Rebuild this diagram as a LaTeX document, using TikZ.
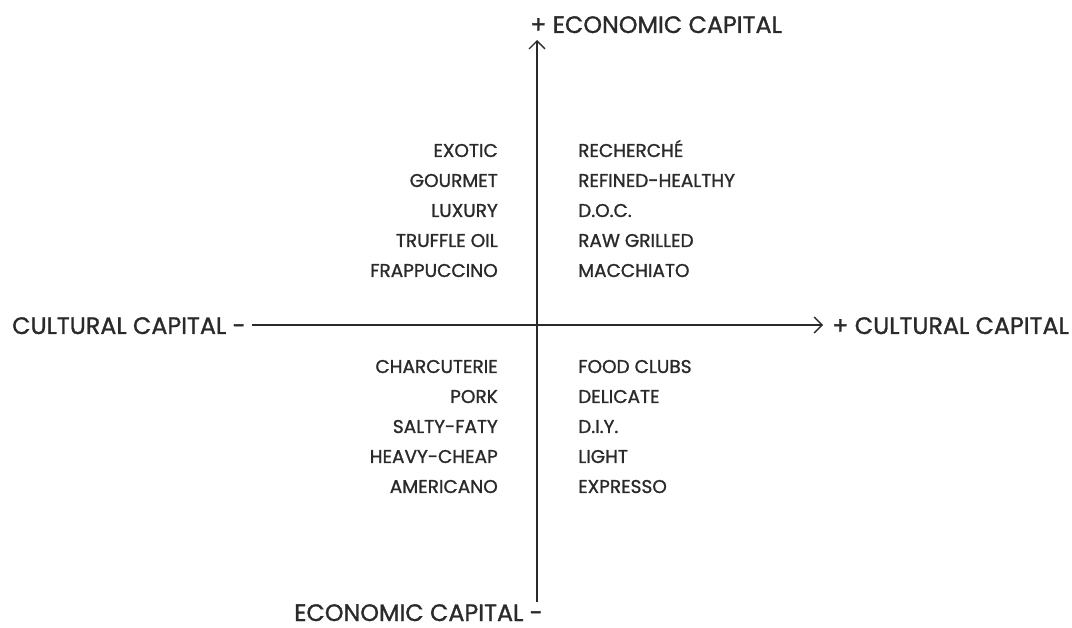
\documentclass[tikz,border=0pt]{standalone}
\usepackage{fontspec}
\setmainfont{Poppins}[FakeStretch=1.0,FakeBold=1.2]
\usetikzlibrary{arrows.meta}

\definecolor{ink}{HTML}{2A2A2A}

\begin{document}
\begin{tikzpicture}[x=1pt,y=-1pt,
  axis/.style={ink,line width=1.3pt,-{Straight Barb[length=8pt,width=16pt,line width=1.3pt]}},
  axislabel/.style={ink,inner sep=0pt,font=\fontsize{23.8}{24}\selectfont},
  word/.style={ink,inner sep=0pt,font=\fontsize{18.5}{19}\selectfont}]
\useasboundingbox (0,0) rectangle (1072,628);

% axis labels
\node[axislabel,anchor=base west] (ecotop) at (530,33) {+ ECONOMIC CAPITAL};
\node[axislabel,anchor=base east] (ecobot) at (543,621) {ECONOMIC CAPITAL -};
\node[axislabel,anchor=base west] (cultl) at (12,334) {CULTURAL CAPITAL -};
\node[axislabel,anchor=base west] (cultr) at (832,334) {+ CULTURAL CAPITAL};

% axes
\coordinate (vtop) at (537,40);
\coordinate (vbot) at (537,602);
\coordinate (hleft) at (252,325);
\coordinate (hright) at (823,325);
\draw[axis] (vbot) -- (vtop);
\draw[axis] (hleft) -- (hright);

% upper quadrants
\foreach \w [count=\i] in {EXOTIC,GOURMET,LUXURY,TRUFFLE OIL,FRAPPUCCINO}
  \node[word,anchor=base east] (ul\i) at (498,127+30*\i) {\w};
\foreach \w [count=\i] in {RECHERCHÉ,REFINED-HEALTHY,D.O.C.,RAW GRILLED,MACCHIATO}
  \node[word,anchor=base west] (ur\i) at (578,127+30*\i) {\w};

% lower quadrants
\foreach \w [count=\i] in {CHARCUTERIE,PORK,SALTY-FATY,HEAVY-CHEAP,AMERICANO}
  \node[word,anchor=base east] (ll\i) at (498,343+30*\i) {\w};
\foreach \w [count=\i] in {FOOD CLUBS,DELICATE,D.I.Y.,LIGHT,EXPRESSO}
  \node[word,anchor=base west] (lr\i) at (578,343+30*\i) {\w};

\end{tikzpicture}
\end{document}
